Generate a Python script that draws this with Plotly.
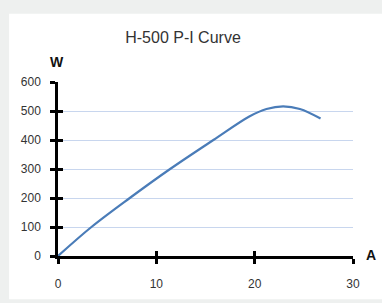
import plotly.graph_objects as go

amps = [0, 3.4, 7.3, 11.4, 15.8, 19.5, 21.2, 22.9, 24.6, 26.7]
watts = [0, 100, 200, 300, 400, 482, 507, 516, 507, 474]
x_ticks = [0, 10, 20, 30]
y_ticks = [0, 100, 200, 300, 400, 500, 600]

W, H = 382, 303
L, R, T, B = 58, 28.5, 82, 40
pw, ph = W - L - R, H - T - B

def px(xp):
    return (xp - L) / pw

def py(yp):
    return (H - B - yp) / ph

fig = go.Figure()
fig.add_trace(go.Scatter(x=amps, y=watts, mode="lines",
                         line=dict(color="#4a7cb8", width=2.2, shape="spline", smoothing=1.0),
                         hoverinfo="skip", showlegend=False))
# dummy trace for overlay axes (inner half of crossing ticks)
fig.add_trace(go.Scatter(x=[0], y=[0], xaxis="x2", yaxis="y2", mode="markers",
                         marker=dict(opacity=0), showlegend=False, hoverinfo="skip"))

font = dict(family="Liberation Sans, Arial, sans-serif", size=12, color="#333333")
tick_common = dict(ticklen=5, tickwidth=2.5, tickcolor="black", fixedrange=True, zeroline=False)

fig.update_layout(
    width=W, height=H,
    margin=dict(l=L, r=R, t=T, b=B),
    paper_bgcolor="#eef0ef",
    plot_bgcolor="rgba(0,0,0,0)",
    font=font,
    title=dict(text="H-500 P-I Curve", x=183 / W, xanchor="center", y=1 - 37 / H, yanchor="middle",
               font=dict(family="Liberation Sans, Arial, sans-serif", size=16, color="#333333")),
    xaxis=dict(range=[0, 30], tickvals=x_ticks, ticks="outside", showline=True,
               linecolor="black", linewidth=2.5, showgrid=False, ticklabelstandoff=10,
               **tick_common),
    yaxis=dict(range=[0, 600], tickvals=y_ticks, ticks="outside", showline=True,
               linecolor="black", linewidth=2.5, showgrid=True, gridcolor="#c8d6ee",
               gridwidth=1, ticklabelstandoff=7, **tick_common),
    xaxis2=dict(range=[0, 30], tickvals=x_ticks, ticks="inside", overlaying="x",
                showticklabels=False, showgrid=False, showline=False, **tick_common),
    yaxis2=dict(range=[0, 600], tickvals=y_ticks, ticks="inside", overlaying="y",
                showticklabels=False, showgrid=False, showline=False, **tick_common),
    shapes=[dict(type="rect", xref="paper", yref="paper", layer="below",
                 x0=px(9), x1=px(W + 5), y0=py(H + 5), y1=py(11),
                 fillcolor="white", line=dict(width=0))],
    annotations=[
        dict(text="<b>W</b>", xref="paper", yref="paper", x=px(57), y=py(61),
             xanchor="center", yanchor="middle", showarrow=False,
             font=dict(family="Liberation Sans, Arial, sans-serif", size=14, color="#111111")),
        dict(text="<b>A</b>", xref="paper", yref="paper", x=px(372), y=py(262),
             xanchor="center", yanchor="middle", showarrow=False,
             font=dict(family="Liberation Sans, Arial, sans-serif", size=14, color="#111111")),
    ],
)

fig.write_html("out.html", config=dict(displayModeBar=False),
               post_script="document.body.style.margin='0';document.body.style.overflow='hidden';")
